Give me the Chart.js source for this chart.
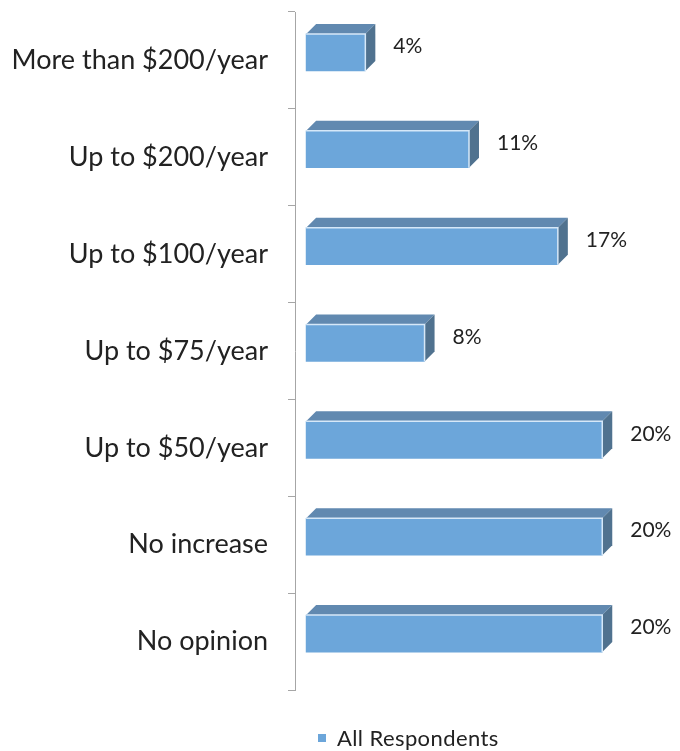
<!DOCTYPE html>
<html>
<head>
<meta charset="utf-8">
<script src="https://cdn.jsdelivr.net/npm/chart.js@4.4.1/dist/chart.umd.min.js"></script>
<style>
  html, body { margin: 0; padding: 0; background: #fff; }
  #wrap { position: relative; width: 680px; height: 751px; }
  #legend {
    position: absolute; left: 318px; top: 724px;
    font-family: Lato, "Open Sans", sans-serif; font-size: 22px; letter-spacing: 0.4px; color: #222;
    display: flex; align-items: center;
  }
  #legend span.box { width: 8px; height: 8px; background: #6ca6da; margin-right: 11px; display: inline-block; }
</style>
</head>
<body>
<div id="wrap">
  <canvas id="barChart" width="680" height="751"></canvas>
  <div id="legend"><span class="box"></span><span id="legendText"></span></div>
</div>
<script>
const categories = [
  "More than $200/year",
  "Up to $200/year",
  "Up to $100/year",
  "Up to $75/year",
  "Up to $50/year",
  "No increase",
  "No opinion",
];
const respondents = [4, 11, 17, 8, 20, 20, 20];
const seriesName = "All Respondents";

const FRONT = "#6ca6da";
const TOP = "#6189b0";
const SIDE = "#50728f";
const LIFT = 8; // bars sit a little above the category centre
const DEPTH_X = 10;
const DEPTH_Y = 10;

// draws the bars raised, then adds the top and side faces plus value labels
const box3d = {
  id: "box3d",
  beforeDatasetsDraw(chart) {
    chart.ctx.save();
    chart.ctx.translate(0, -LIFT);
  },
  afterDatasetsDraw(chart) {
    const ctx = chart.ctx;
    const meta = chart.getDatasetMeta(0);
    meta.data.forEach((bar, i) => {
      const h = bar.height;
      const left = bar.base;
      const right = bar.x;
      const top = bar.y - h / 2;
      const bottom = bar.y + h / 2;

      ctx.fillStyle = TOP;
      ctx.beginPath();
      ctx.moveTo(left, top);
      ctx.lineTo(left + DEPTH_X, top - DEPTH_Y);
      ctx.lineTo(right + DEPTH_X, top - DEPTH_Y);
      ctx.lineTo(right, top);
      ctx.closePath();
      ctx.fill();

      ctx.fillStyle = SIDE;
      ctx.beginPath();
      ctx.moveTo(right, top);
      ctx.lineTo(right + DEPTH_X, top - DEPTH_Y);
      ctx.lineTo(right + DEPTH_X, bottom - DEPTH_Y);
      ctx.lineTo(right, bottom);
      ctx.closePath();
      ctx.fill();

      ctx.strokeStyle = "#d6e8f8";
      ctx.lineWidth = 1.5;
      ctx.beginPath();
      ctx.moveTo(left, top);
      ctx.lineTo(right, top);
      ctx.lineTo(right, bottom);
      ctx.stroke();

      ctx.fillStyle = "#222";
      ctx.font = "21px Lato, 'Open Sans', sans-serif";
      ctx.textAlign = "left";
      ctx.textBaseline = "middle";
      ctx.fillText(respondents[i] + "%", right + DEPTH_X + 18, bar.y - 6);
    });
    ctx.restore();
  },
};

new Chart(document.getElementById("barChart"), {
  type: "bar",
  data: {
    labels: categories,
    datasets: [
      {
        label: seriesName,
        data: respondents,
        backgroundColor: FRONT,
        borderWidth: 0,
        barThickness: 37,
      },
    ],
  },
  options: {
    indexAxis: "y",
    responsive: false,
    animation: false,
    layout: { padding: { top: 12, bottom: 61, left: 0, right: 0 } },
    scales: {
      x: {
        display: false,
        min: -0.75,
        max: 25.25,
      },
      y: {
        afterFit(scale) {
          scale.width = 295;
          scale.paddingTop = 0;
          scale.paddingBottom = 0;
        },
        border: { display: true, color: "#a6a6a6", width: 1 },
        grid: {
          display: true,
          drawOnChartArea: false,
          drawTicks: true,
          tickLength: 7,
          color: "#a6a6a6",
          offset: true,
        },
        ticks: {
          color: "#222",
          padding: 20,
          font: { family: "Lato, 'Open Sans', sans-serif", size: 27 },
        },
      },
    },
    plugins: {
      legend: { display: false },
      tooltip: { enabled: false },
    },
  },
  plugins: [box3d],
});

document.getElementById("legendText").textContent = seriesName;
</script>
</body>
</html>
